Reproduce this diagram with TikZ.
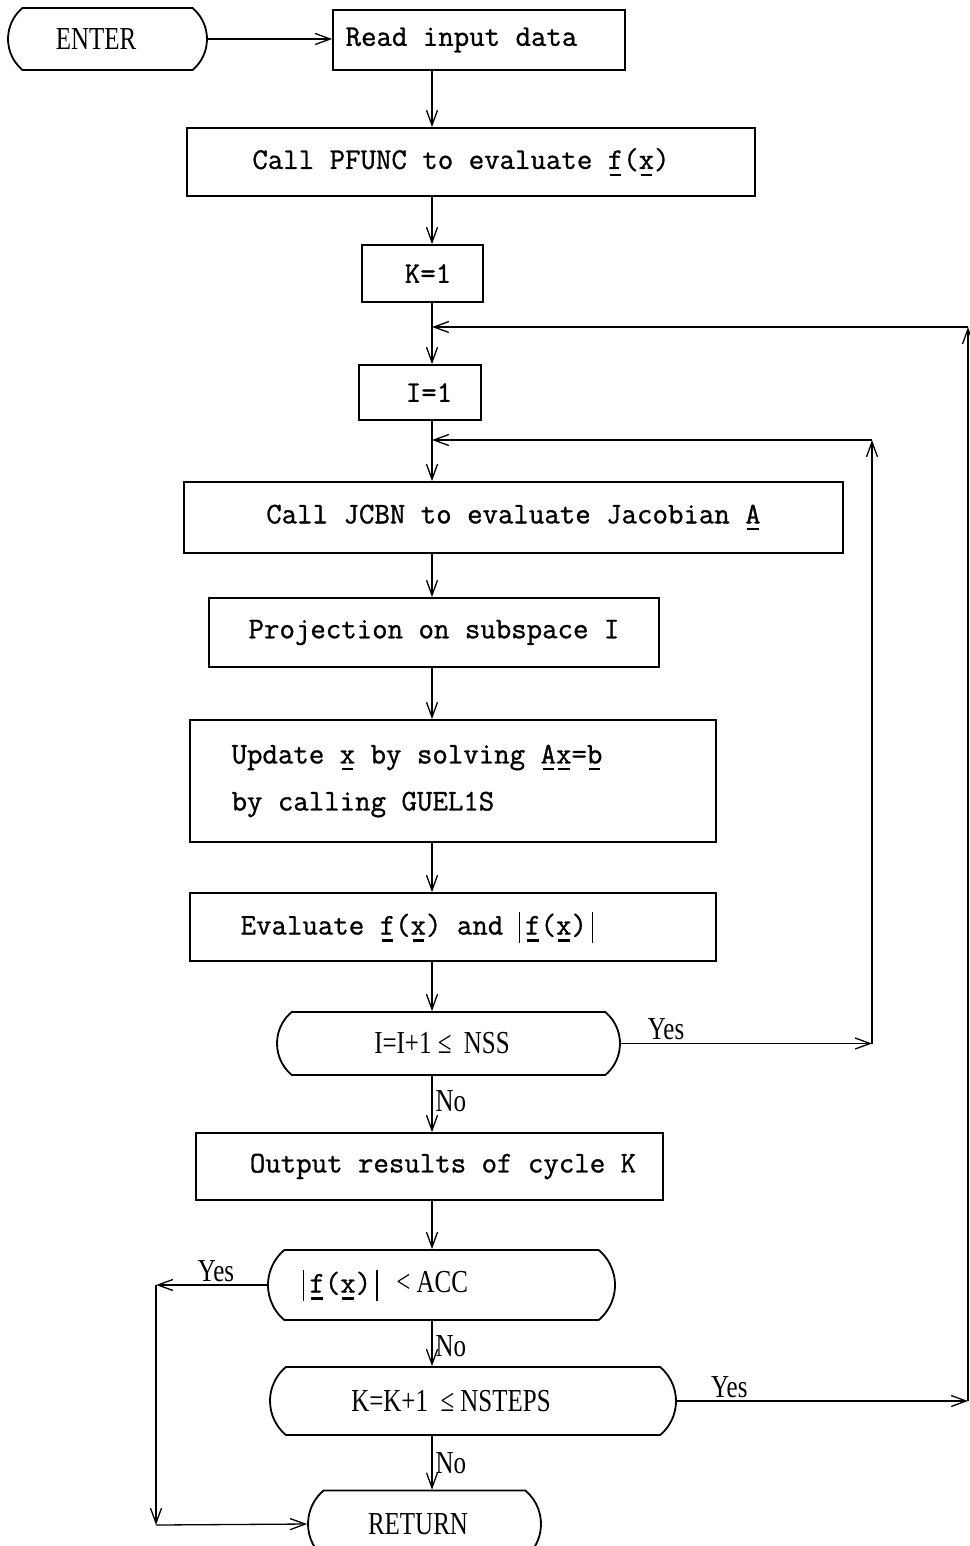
\documentclass[tikz,border=0pt]{standalone}
\usepackage{fontspec}
\setmonofont[FakeBold=1]{Latin Modern Mono}
\newfontfamily\lblfont[FakeStretch=0.78]{Liberation Serif}
\usetikzlibrary{shapes.misc,arrows.meta}

% typewriter text of the process boxes, serif text of terminals/decisions
\newcommand\twfont{\ttfamily\fontsize{30}{47}\selectfont}
\newcommand\lbfont{\lblfont\fontsize{32}{38}\selectfont}
% underlined vector symbol and tall norm bar
\newcommand\ul[1]{\setbox0\hbox{#1}\rlap{\hspace{2pt}\rule[-7pt]{\dimexpr\wd0-4pt\relax}{2.4pt}}\box0\relax}
\newcommand\vb{\rule[-8pt]{1.4pt}{31pt}}

\tikzset{
  box/.style={draw, line width=1.8pt, rectangle, inner sep=0pt, font=\twfont},
  term/.style={draw, line width=1.8pt, rounded rectangle,
    rounded rectangle arc length=100, inner sep=0pt, font=\lbfont},
  conn/.style={line width=1.3pt, -{Straight Barb[length=15pt,width=11pt]}},
  lab/.style={font=\lbfont, inner sep=3pt},
}

\begin{document}
\begin{tikzpicture}[x=1pt,y=-1pt]
\useasboundingbox (0,0) rectangle (969,1546);

% process chain
\node[term, minimum width=199pt, minimum height=62pt] (enter) at (107.5,39) {ENTER\hspace*{23pt}};
\node[box, minimum width=292pt, minimum height=60pt] (read) at (479,40) {Read input data\hspace*{35pt}};
\node[box, minimum width=568pt, minimum height=68pt] (pfunc) at (471,162) {Call PFUNC to evaluate \ul{f}(\ul{x})\hspace*{20pt}};
\node[box, minimum width=121pt, minimum height=57pt] (k1) at (422.5,273.5) {\hspace*{11pt}K=1};
\node[box, minimum width=122pt, minimum height=55pt] (i1) at (420,392.5) {\hspace*{18pt}I=1};
\node[box, minimum width=659pt, minimum height=71pt] (jcbn) at (513.5,517.5) {Call JCBN to evaluate Jacobian \ul{A}};
\node[box, minimum width=450pt, minimum height=69pt] (proj) at (434,632.5) {Projection on subspace I};
\node[box, minimum width=526pt, minimum height=122pt, align=left] (upd) at (453,781)
  {Update \ul{x} by solving \ul{A}\ul{x}=\ul{b}\hspace*{72pt}\\by calling GUEL1S};
\node[box, minimum width=526pt, minimum height=68pt] (eval) at (453,927)
  {Evaluate \ul{f}(\ul{x}) and \vb\,\ul{f}(\ul{x})\,\vb\hspace*{72pt}};
\node[term, minimum width=343pt, minimum height=63pt] (idec) at (448.5,1043.5) {I=I+1 ≤~ NSS\hspace*{13pt}};
\node[box, minimum width=467pt, minimum height=67pt] (out) at (429.5,1166.5) {\hspace*{27pt}Output results of cycle K};
\node[term, minimum width=347pt, minimum height=70pt] (acc) at (441.5,1285)
  {{\twfont\vb\,\ul{f}(\ul{x})\,\vb}~~ < ACC\hspace*{112pt}};
\node[term, minimum width=406pt, minimum height=68pt] (kdec) at (473,1401) {K=K+1~ ≤ NSTEPS\hspace*{44pt}};
\node[term, minimum width=233pt, minimum height=67pt] (ret) at (424.5,1524) {RETURN\hspace*{13pt}};

% routing points
\coordinate (spine) at (432,0);
\coordinate (iTop) at (872,440);
\coordinate (kTop) at (968,327);
\coordinate (aL) at (156,1525);

% main flow
\draw[conn] (enter.east) -- (enter.east -| read.west);
\draw[conn] (read.south -| spine) -- (pfunc.north -| spine);
\draw[conn] (pfunc.south -| spine) -- (k1.north -| spine);
\draw[conn] (k1.south -| spine) -- (i1.north -| spine);
\draw[conn] (i1.south -| spine) -- (jcbn.north -| spine);
\draw[conn] (jcbn.south -| spine) -- (proj.north -| spine);
\draw[conn] (proj.south -| spine) -- (upd.north -| spine);
\draw[conn] (upd.south -| spine) -- (eval.north -| spine);
\draw[conn] (eval.south -| spine) -- (idec.north -| spine);
\draw[conn] (idec.south -| spine) -- node[lab, right, pos=0.45] (no1) {No} (out.north -| spine);
\draw[conn] (out.south -| spine) -- (acc.north -| spine);
\draw[conn] (acc.south -| spine) -- node[lab, right, pos=0.55] (no2) {No} (kdec.north -| spine);
\draw[conn] (kdec.south -| spine) -- node[lab, right, pos=0.5] (no3) {No} (ret.north -| spine);

% inner loop over subspaces
\draw[conn] (idec.east) -- node[lab, above, pos=0.18] (yes1) {Yes} (idec.east -| iTop);
\draw[conn] (idec.east -| iTop) -- (iTop);
\draw[conn] (iTop) -- (iTop -| spine);

% outer loop over cycles
\draw[conn] (kdec.east) -- node[lab, above, pos=0.18] (yes3) {Yes} (kdec.east -| kTop);
\draw[conn] (kdec.east -| kTop) -- (kTop);
\draw[conn] (kTop) -- (kTop -| spine);

% converged exit
\draw[conn] (acc.west) -- node[lab, above, pos=0.46] (yes2) {Yes} (acc.west -| aL);
\draw[conn] (acc.west -| aL) -- (aL);
\draw[conn] (aL) -- (ret.west);
\end{tikzpicture}
\end{document}
